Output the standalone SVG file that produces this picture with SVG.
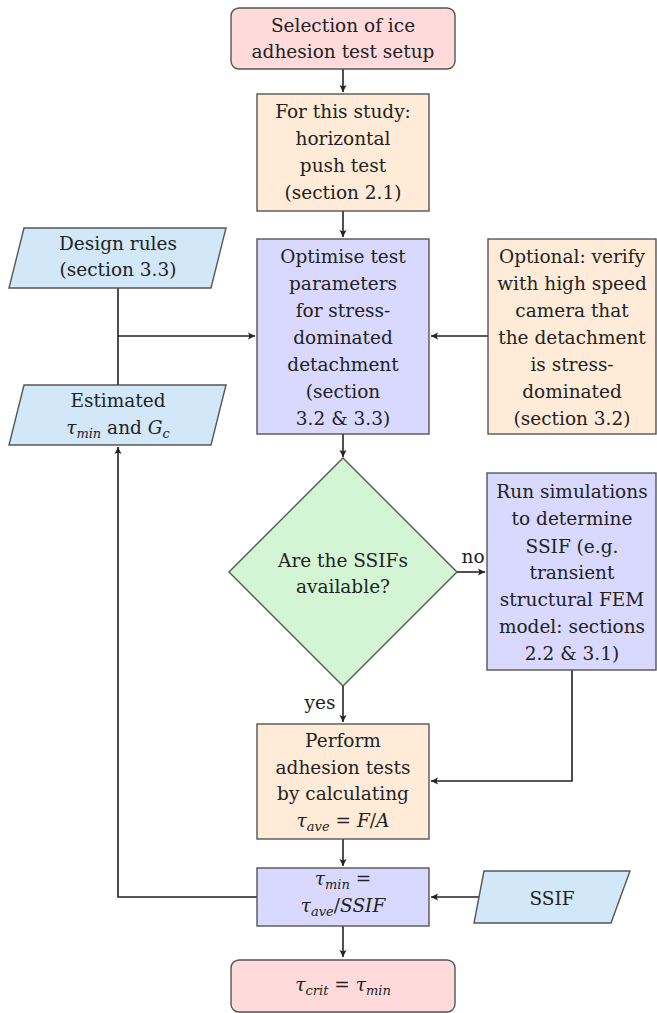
<svg xmlns="http://www.w3.org/2000/svg" width="657" height="1013" viewBox="0 0 657 1013">
<style>
.t{font-size:18.5px;fill:#222;text-anchor:middle}
.m{font-style:italic}
.s{font-style:italic;font-size:13px}
.box{stroke:#555;stroke-width:1.4}
.pink{fill:#ffdada}
.peach{fill:#ffebd7}
.lav{fill:#d9d9ff}
.blue{fill:#d2e8f8}
.green{fill:#d4f5d4}
.c{fill:none;stroke:#222;stroke-width:1.6}
</style>
<defs>
<marker id="ah" markerWidth="10" markerHeight="10" refX="8" refY="5" orient="auto" markerUnits="userSpaceOnUse">
<path d="M1,1.5 L8,5 L1,8.5 L2.5,5 Z" fill="#222"/>
</marker>
</defs>
<rect width="657" height="1013" fill="#fff"/>
<g font-family="DejaVu Serif, serif">
<g id="connectors">
<path class="c" d="M343,69 V92" marker-end="url(#ah)"/>
<path class="c" d="M343,211 V237" marker-end="url(#ah)"/>
<path class="c" d="M118,288 V385"/>
<path class="c" d="M118,336 H255" marker-end="url(#ah)"/>
<path class="c" d="M488,336 H431" marker-end="url(#ah)"/>
<path class="c" d="M343,434 V457" marker-end="url(#ah)"/>
<path class="c" d="M457,572 H485" marker-end="url(#ah)"/>
<path class="c" d="M572,670 V781 H431" marker-end="url(#ah)"/>
<path class="c" d="M343,686 V722" marker-end="url(#ah)"/>
<path class="c" d="M343,839 V866" marker-end="url(#ah)"/>
<path class="c" d="M257,897 H118 V447" marker-end="url(#ah)"/>
<path class="c" d="M479,897 H431" marker-end="url(#ah)"/>
<path class="c" d="M343,926 V957" marker-end="url(#ah)"/>
<text class="t" x="473" y="563">no</text>
<text class="t" x="320" y="709">yes</text>
</g>
<g id="n1">
<rect class="box pink" x="231" y="8" width="224" height="61" rx="8"/>
<text class="t" x="343" y="32">Selection of ice</text>
<text class="t" x="343" y="58">adhesion test setup</text>
</g>
<g id="n2">
<rect class="box peach" x="257" y="94" width="172" height="117"/>
<text class="t" x="343" y="118">For this study:</text>
<text class="t" x="343" y="145">horizontal</text>
<text class="t" x="343" y="172">push test</text>
<text class="t" x="343" y="199">(section 2.1)</text>
</g>
<g id="n3">
<rect class="box lav" x="257" y="239" width="172" height="195"/>
<text class="t" x="343" y="263">Optimise test</text>
<text class="t" x="343" y="290">parameters</text>
<text class="t" x="343" y="317">for stress-</text>
<text class="t" x="343" y="344">dominated</text>
<text class="t" x="343" y="371">detachment</text>
<text class="t" x="343" y="398">(section</text>
<text class="t" x="343" y="425">3.2 &amp; 3.3)</text>
</g>
<g id="design">
<polygon class="box blue" points="24,228 226,228 211,288 9,288"/>
<text class="t" x="118" y="250">Design rules</text>
<text class="t" x="118" y="276">(section 3.3)</text>
</g>
<g id="estimated">
<polygon class="box blue" points="24,385 226,385 211,445 9,445"/>
<text class="t" x="118" y="407">Estimated</text>
<text class="t" x="118" y="434"><tspan class="m">τ</tspan><tspan class="s" dy="4">min</tspan><tspan dy="-4"> and </tspan><tspan class="m">G</tspan><tspan class="s" dy="4">c</tspan></text>
</g>
<g id="optional">
<rect class="box peach" x="488" y="239" width="168" height="195"/>
<text class="t" x="572" y="263">Optional: verify</text>
<text class="t" x="572" y="290">with high speed</text>
<text class="t" x="572" y="317">camera that</text>
<text class="t" x="572" y="344">the detachment</text>
<text class="t" x="572" y="371">is stress-</text>
<text class="t" x="572" y="398">dominated</text>
<text class="t" x="572" y="425">(section 3.2)</text>
</g>
<g id="decision">
<polygon class="box green" points="343,458 457,572 343,686 229,572"/>
<text class="t" x="343" y="567">Are the SSIFs</text>
<text class="t" x="343" y="593">available?</text>
</g>
<g id="simulate">
<rect class="box lav" x="487" y="473" width="169" height="197"/>
<text class="t" x="572" y="498">Run simulations</text>
<text class="t" x="572" y="525">to determine</text>
<text class="t" x="572" y="553">SSIF (e.g.</text>
<text class="t" x="572" y="579">transient</text>
<text class="t" x="572" y="606">structural FEM</text>
<text class="t" x="572" y="633">model: sections</text>
<text class="t" x="572" y="660">2.2 &amp; 3.1)</text>
</g>
<g id="perform">
<rect class="box peach" x="257" y="724" width="172" height="115"/>
<text class="t" x="343" y="747">Perform</text>
<text class="t" x="343" y="774">adhesion tests</text>
<text class="t" x="343" y="800">by calculating</text>
<text class="t" x="343" y="827"><tspan class="m">τ</tspan><tspan class="s" dy="4">ave</tspan><tspan dy="-4"> = </tspan><tspan class="m">F</tspan><tspan>/</tspan><tspan class="m">A</tspan></text>
</g>
<g id="tmin">
<rect class="box lav" x="257" y="868" width="172" height="58"/>
<text class="t" x="343" y="885"><tspan class="m">τ</tspan><tspan class="s" dy="4">min</tspan><tspan dy="-4">  =</tspan></text>
<text class="t" x="343" y="912"><tspan class="m">τ</tspan><tspan class="s" dy="4">ave</tspan><tspan dy="-4">/</tspan><tspan class="m">SSIF</tspan></text>
</g>
<g id="ssif">
<polygon class="box blue" points="484,871 630,871 611,923 474,923"/>
<text class="t" x="552" y="905">SSIF</text>
</g>
<g id="crit">
<rect class="box pink" x="231" y="960" width="224" height="52" rx="8"/>
<text class="t" x="343" y="991"><tspan class="m">τ</tspan><tspan class="s" dy="4">crit</tspan><tspan dy="-4"> = </tspan><tspan class="m">τ</tspan><tspan class="s" dy="4">min</tspan></text>
</g>
</g>
</svg>
